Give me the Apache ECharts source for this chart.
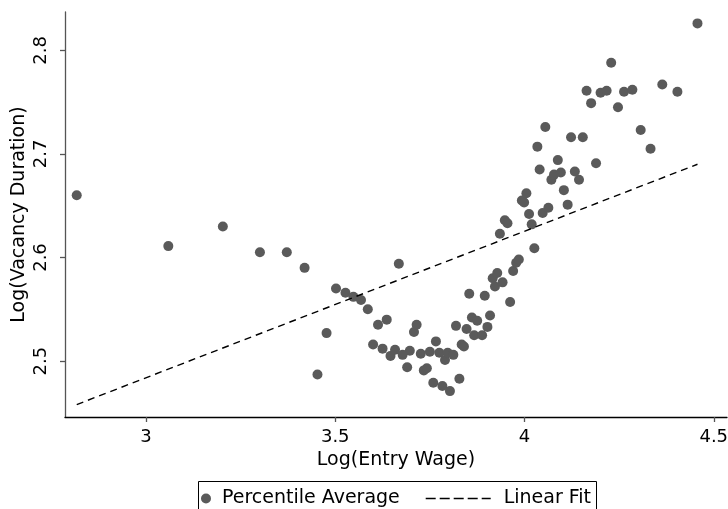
<!DOCTYPE html>
<html>
<head>
<meta charset="utf-8">
<script src="https://cdn.jsdelivr.net/npm/echarts@6/dist/echarts.min.js"></script>
<style>
html, body { margin: 0; padding: 0; background: #fff; }
#main { width: 728px; height: 509px; }
</style>
</head>
<body>
<div id="main"></div>
<script>
// log entry wage (x) / log vacancy duration (y)
var wageLog = [2.817, 3.059, 3.203, 3.301, 3.372, 3.419, 3.453, 3.477, 3.502, 3.527,
	3.548, 3.568, 3.586, 3.600, 3.613, 3.625, 3.636, 3.646, 3.658, 3.668,
	3.678, 3.690, 3.697, 3.708, 3.715, 3.726, 3.734, 3.742, 3.750, 3.759,
	3.766, 3.775, 3.783, 3.790, 3.797, 3.803, 3.812, 3.819, 3.828, 3.834,
	3.840, 3.847, 3.854, 3.861, 3.867, 3.875, 3.888, 3.895, 3.902, 3.909,
	3.916, 3.922, 3.928, 3.935, 3.942, 3.948, 3.955, 3.962, 3.970, 3.978,
	3.985, 3.993, 3.999, 4.005, 4.012, 4.019, 4.026, 4.034, 4.040, 4.048,
	4.055, 4.063, 4.071, 4.078, 4.088, 4.096, 4.104, 4.114, 4.123, 4.133,
	4.144, 4.154, 4.164, 4.176, 4.189, 4.201, 4.217, 4.229, 4.247, 4.263,
	4.285, 4.307, 4.333, 4.364, 4.404, 4.457];
var durationLog = [2.660, 2.611, 2.630, 2.605, 2.605, 2.590, 2.487, 2.527, 2.570, 2.566,
	2.562, 2.559, 2.550, 2.516, 2.535, 2.512, 2.540, 2.505, 2.511, 2.594,
	2.506, 2.494, 2.510, 2.528, 2.535, 2.507, 2.491, 2.493, 2.509, 2.479,
	2.519, 2.508, 2.476, 2.501, 2.508, 2.471, 2.506, 2.534, 2.483, 2.516,
	2.514, 2.531, 2.565, 2.542, 2.525, 2.539, 2.525, 2.563, 2.533, 2.544,
	2.580, 2.572, 2.585, 2.623, 2.576, 2.636, 2.633, 2.557, 2.587, 2.595,
	2.598, 2.655, 2.653, 2.662, 2.642, 2.632, 2.609, 2.707, 2.685, 2.643,
	2.726, 2.648, 2.675, 2.680, 2.694, 2.682, 2.665, 2.651, 2.716, 2.683,
	2.675, 2.716, 2.761, 2.749, 2.691, 2.759, 2.761, 2.788, 2.745, 2.760,
	2.762, 2.723, 2.705, 2.767, 2.760, 2.826];

// linear fit end points
var fitX = [2.817, 4.457];
var fitY = [2.458, 2.690];

var xTicks = [3, 3.5, 4, 4.5];
var yTicks = [2.5, 2.6, 2.7, 2.8];

function pairs(a, b){
	var out = [];
	for(var i=0;i<a.length;i++){
		out.push([a[i], b[i]]);
	}
	return out;
}

var font = 'DejaVu Sans';
var fs = 19;		// titles + legend
var tickFs = 18;	// tick labels

var chart = echarts.init(document.getElementById('main'));

var option = {
	animation: false,
	textStyle: { fontFamily: font },
	grid: { left: 65, right: 1, top: 12, bottom: 92, outerBoundsMode: 'none', containLabel: false },
	legend: [{
		data: ['Percentile Average'],
		left: 201, top: 489,
		padding: 0,
		itemWidth: 16, itemHeight: 10,
		textStyle: { fontFamily: font, fontSize: fs, color: '#000', padding: [0, 0, 0, 3] }
	}, {
		data: ['Linear Fit'],
		left: 425, top: 489,
		padding: 0,
		itemWidth: 65, itemHeight: 10,
		itemStyle: { opacity: 0 },
		lineStyle: { type: [10, 4], width: 1.4, color: '#000' },
		textStyle: { fontFamily: font, fontSize: fs, color: '#000', padding: [0, 0, 0, 8] }
	}],
	graphic: [{
		type: 'rect',
		left: 196, top: 479,
		shape: { width: 398, height: 40 },
		style: { fill: 'none', stroke: '#000', lineWidth: 1 }
	}],
	xAxis: {
		type: 'value',
		min: 2.786, max: 4.535,
		name: 'Log(Entry Wage)',
		nameLocation: 'middle',
		nameGap: 31,
		nameTextStyle: { fontFamily: font, fontSize: fs, color: '#000' },
		axisLine: { show: true, onZero: false, lineStyle: { color: '#000', width: 1.3 } },
		axisTick: { show: true, length: 5, customValues: xTicks, lineStyle: { color: '#555', width: 1.3 } },
		axisLabel: { customValues: xTicks, margin: 11, fontSize: tickFs, color: '#000', fontFamily: font },
		splitLine: { show: false }
	},
	yAxis: {
		type: 'value',
		min: 2.446, max: 2.837,
		name: 'Log(Vacancy Duration)',
		nameLocation: 'middle',
		nameGap: 36,
		nameMoveOverlap: false,
		nameTextStyle: { fontFamily: font, fontSize: fs, color: '#000' },
		axisLine: { show: true, onZero: false, lineStyle: { color: '#555', width: 1.3 } },
		axisTick: { show: true, length: 5, customValues: yTicks, lineStyle: { color: '#555', width: 1.3 } },
		axisLabel: { customValues: yTicks, rotate: 90, margin: 15, fontSize: tickFs, color: '#000', fontFamily: font },
		splitLine: { show: false }
	},
	series: [{
		name: 'Percentile Average',
		type: 'scatter',
		symbol: 'circle',
		symbolSize: 10,
		itemStyle: { color: '#5a5a5a', opacity: 1 },
		data: pairs(wageLog, durationLog)
	}, {
		name: 'Linear Fit',
		type: 'line',
		symbol: 'none',
		itemStyle: { color: '#000' },
		lineStyle: { color: '#000', width: 1.4, type: [7, 5] },
		data: pairs(fitX, fitY)
	}]
};
chart.setOption(option);
</script>
</body>
</html>
